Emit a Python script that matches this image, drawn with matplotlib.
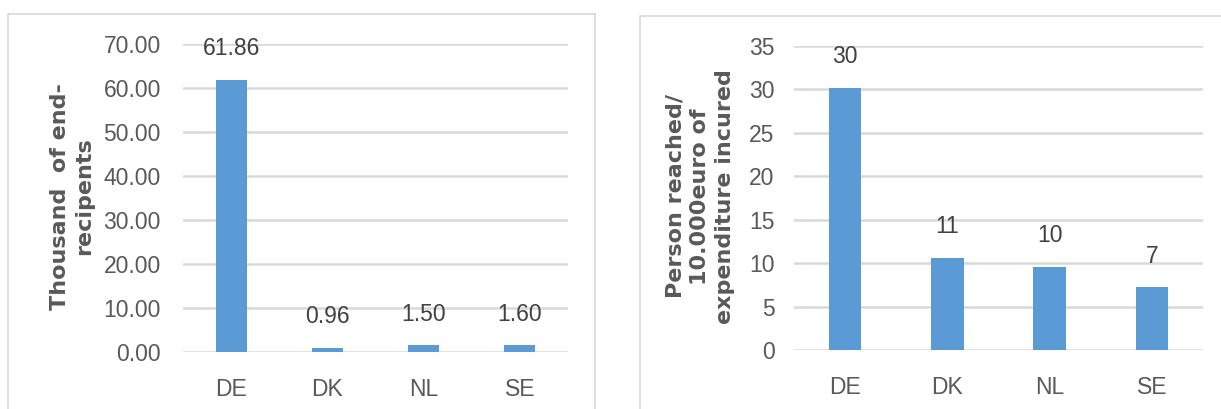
import matplotlib
matplotlib.use('Agg')
from matplotlib import pyplot as plt
from matplotlib.patches import Rectangle

#-------------- Data ---------------
countries = ['DE', 'DK', 'NL', 'SE']
recipients = [61.86, 0.96, 1.50, 1.60]
recipients_labels = ['61.86', '0.96', '1.50', '1.60']
persons_per_10k = [30.2, 10.6, 9.6, 7.25]
persons_labels = ['30', '11', '10', '7']

#-------------- Style ---------------
BAR_COLOR = '#5B9BD5'
GRID_COLOR = '#D9D9D9'
TICK_COLOR = '#595959'
LABEL_COLOR = '#404040'
NUM_FONT = ['Liberation Sans Narrow', 'Liberation Sans', 'DejaVu Sans']

fig = plt.figure(figsize=(12.21, 4.09), dpi=100)

# panel frames (drawn in figure pixels, running off the bottom edge)
W, H = 1221, 409
for (x0, y0, x1) in [(8, 14, 595), (640, 16, 1230)]:
    fig.patches.append(Rectangle((x0 / W, -0.05), (x1 - x0) / W, (H - y0) / H + 0.05,
                                 transform=fig.transFigure, fill=False,
                                 edgecolor='#D9D9D9', linewidth=1.2))


def bar_panel(rect, values, labels, ymax, step, fmt, ylabel, tick_pad, label_x, lsp):
    ax = fig.add_axes(rect)
    x = range(len(countries))
    bars = ax.bar(x, values, width=0.32, color=BAR_COLOR, zorder=3)
    ax.set_xlim(-0.5, len(countries) - 0.5)
    ax.set_ylim(0, ymax)
    ax.set_yticks([i * step for i in range(int(ymax / step) + 1)])
    ax.set_yticklabels([fmt.format(i * step) for i in range(int(ymax / step) + 1)])
    ax.set_xticks(list(x))
    ax.set_xticklabels(countries)
    ax.grid(axis='y', color=GRID_COLOR, linewidth=1.8, zorder=0)
    for s in ax.spines.values():
        s.set_visible(False)
    ax.tick_params(length=0, colors=TICK_COLOR, labelsize=16.5)
    ax.tick_params(axis='y', pad=tick_pad)
    ax.tick_params(axis='x', pad=19)
    for t in ax.get_xticklabels() + ax.get_yticklabels():
        t.set_family(NUM_FONT)
    for b, lab in zip(bars, labels):
        ax.annotate(lab, (b.get_x() + b.get_width() / 2, b.get_height()),
                    xytext=(0, 14), textcoords='offset points', ha='center', va='bottom',
                    fontsize=16.5, color=LABEL_COLOR, family=NUM_FONT)
    fig.text(label_x, 0.52, ylabel, rotation=90, ha='center', va='center',
             fontsize=16, fontweight='bold', color=TICK_COLOR, linespacing=lsp,
             family='DejaVu Sans')
    return ax


bar_panel([183 / W, 1 - 352 / H, 385 / W, 308 / H], recipients, recipients_labels,
          70, 10, '{:.2f}', 'Thousand  of end-\nrecipents', 16, 72 / W, 1.22)
bar_panel([794 / W, 1 - 350 / H, 409 / W, 304 / H], persons_per_10k, persons_labels,
          35, 5, '{:d}', 'Person reached/\n10.000euro of\nexpenditure incured', 14, 700 / W, 1.3)

fig.savefig('out.png', dpi=100)
